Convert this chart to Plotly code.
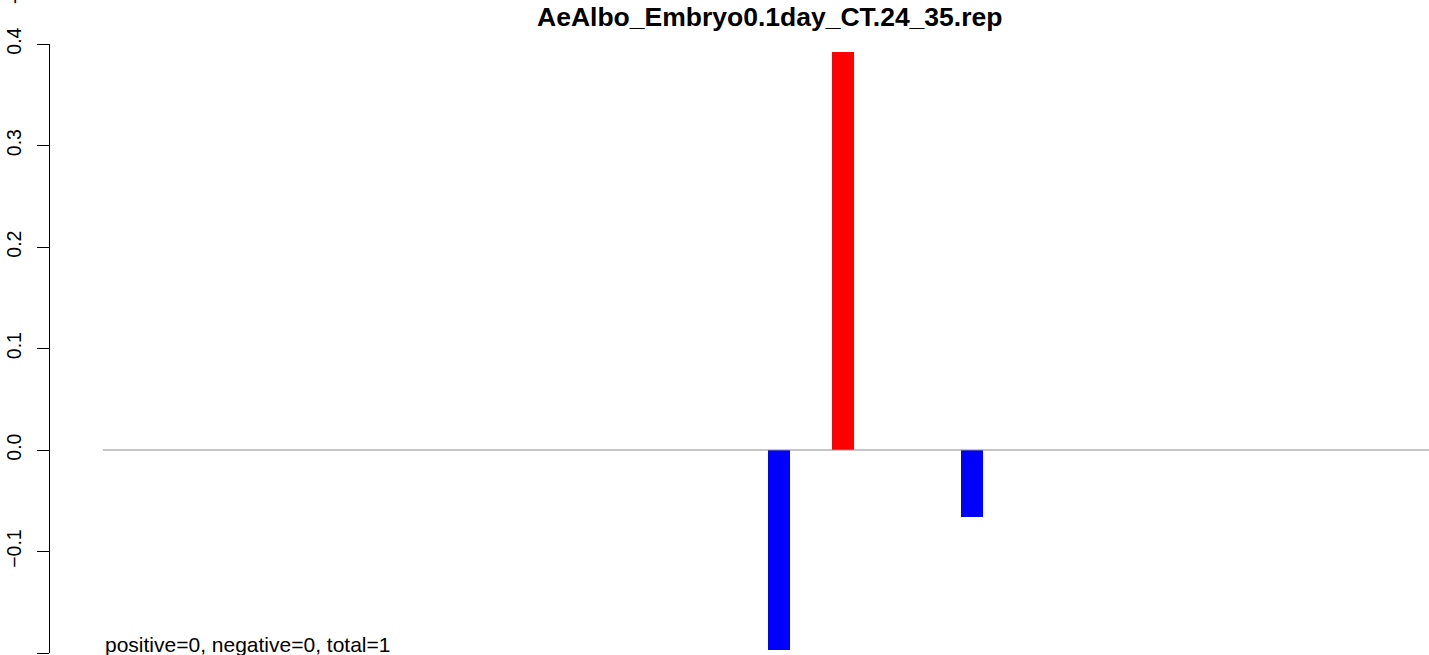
import plotly.graph_objects as go

# ---- data ----
bin_index = list(range(3, 46))
nonzero_bins = [24, 26, 30]
nonzero_vals = [-0.197, 0.392, -0.066]
values = [nonzero_vals[nonzero_bins.index(i)] if i in nonzero_bins else 0.0 for i in bin_index]
y_ticks = [-0.2, -0.1, 0.0, 0.1, 0.2, 0.3, 0.4]
y_ticklabels = ["−0.2", "−0.1", "0.0", "0.1", "0.2", "0.3", "0.4"]
title_text = "AeAlbo_Embryo0.1day_CT.24_35.rep"
footer_text = "positive=0, negative=0, total=1"

colors = ["red" if v > 0 else "blue" for v in values]

fig = go.Figure()
fig.add_trace(go.Scatter(
    x=[bin_index[0], bin_index[-1]], y=[0, 0], mode="lines",
    line=dict(color="#8c8c8c", width=1.2), hoverinfo="skip", showlegend=False,
))
fig.add_trace(go.Bar(
    x=bin_index, y=values, marker=dict(color=colors, line=dict(width=0)),
    width=0.683, showlegend=False,
))

FONT = "Liberation Sans, Arial, sans-serif"
fig.update_layout(
    width=1429, height=655,
    margin=dict(l=50, r=0, t=44, b=2),
    plot_bgcolor="white", paper_bgcolor="white",
    font=dict(family=FONT, color="black"),
    bargap=0,
    xaxis=dict(range=[1.36, 44.186], visible=False, showgrid=False, zeroline=False),
    yaxis=dict(
        range=[-0.2, 0.4], tickvals=y_ticks, ticktext=y_ticklabels,
        tickangle=-90, tickfont=dict(size=19.5, family=FONT, color="black"),
        ticks="outside", ticklen=12, tickwidth=1.3, tickcolor="black",
        showline=True, linecolor="black", linewidth=1.3,
        showgrid=False, zeroline=False, ticklabelstandoff=8,
    ),
    annotations=[
        dict(text="<b>" + title_text + "</b>", xref="paper", yref="paper",
             x=(770 - 50) / 1379, y=1 + 27 / 609, xanchor="center", yanchor="middle",
             showarrow=False, font=dict(size=26.5, family=FONT, color="black")),
        dict(text=footer_text, xref="x", yref="y", x=3, y=-0.1915,
             xanchor="left", yanchor="middle", showarrow=False,
             font=dict(size=21, family=FONT, color="black")),
        dict(text="-", xref="paper", yref="paper", x=(14 - 50) / 1379, y=1 + 43 / 609,
             textangle=-90, xanchor="center", yanchor="middle", showarrow=False,
             font=dict(size=19.5, family=FONT, color="black")),
    ],
)

fig.write_html("out.html", config={"displayModeBar": False},
               post_script="document.body.style.margin='0';document.body.style.padding='0';")
